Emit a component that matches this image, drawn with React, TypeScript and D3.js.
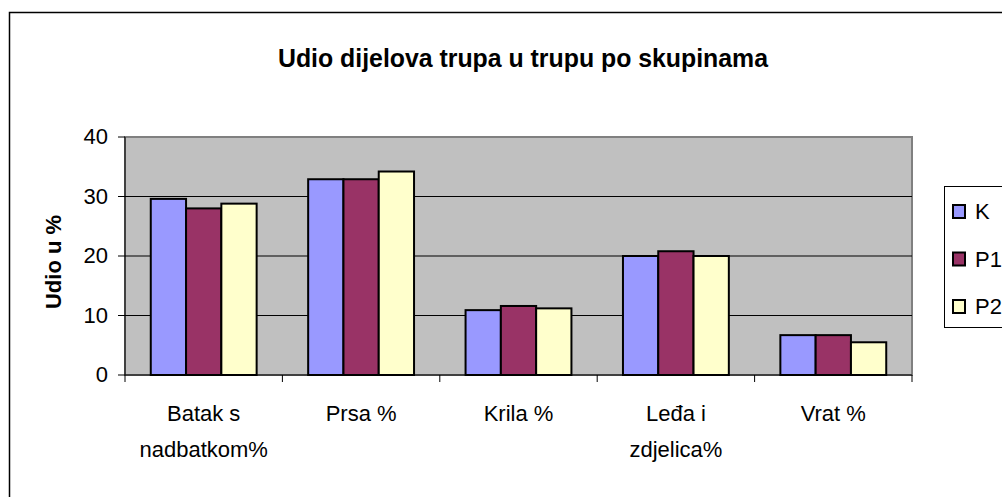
import React, { useRef, useEffect } from "react";
import * as d3 from "d3";

const categories = ["Batak s|nadbatkom%", "Prsa %", "Krila %", "Leđa i|zdjelica%", "Vrat %"];
const seriesNames = ["K", "P1", "P2"];
const valuesK = [29.6, 32.9, 10.9, 20.0, 6.7];
const valuesP1 = [28.0, 32.9, 11.6, 20.8, 6.7];
const valuesP2 = [28.8, 34.2, 11.2, 20.0, 5.5];
const yTicks = [0, 10, 20, 30, 40];
const colors = ["#9999FF", "#993366", "#FFFFCC"];

const W = 1002;
const H = 497;
const font = "'Liberation Sans', Arial, sans-serif";

function App() {
  const svgRef = useRef<SVGSVGElement>(null);

  useEffect(() => {
    const svg = d3.select(svgRef.current);
    svg.selectAll("*").remove();

    const left = 125, right = 912, top = 137, bottom = 375;
    const series = [valuesK, valuesP1, valuesP2];

    // outer chart frame (runs off the right and bottom edges)
    svg.append("rect")
      .attr("x", 9.5).attr("y", 12.5)
      .attr("width", 1100).attr("height", 600)
      .attr("fill", "white").attr("stroke", "black").attr("stroke-width", 1.5);

    svg.append("text")
      .attr("x", 523).attr("y", 67)
      .attr("text-anchor", "middle")
      .attr("font-family", font).attr("font-weight", "bold").attr("font-size", 25)
      .attr("textLength", 490).attr("lengthAdjust", "spacingAndGlyphs")
      .text("Udio dijelova trupa u trupu po skupinama");

    const x = d3.scaleBand().domain(categories).range([left, right]);
    const inner = d3.scaleBand().domain(seriesNames)
      .range([0, x.bandwidth()]).paddingInner(0).paddingOuter(0.73);
    const y = d3.scaleLinear().domain([0, 40]).range([bottom, top]);

    // plot area
    svg.append("rect")
      .attr("x", left).attr("y", top)
      .attr("width", right - left).attr("height", bottom - top)
      .attr("fill", "#C0C0C0").attr("stroke", "#808080").attr("stroke-width", 2);

    svg.selectAll(".grid")
      .data(yTicks.filter((t) => t > 0 && t < 40))
      .join("line")
      .attr("class", "grid")
      .attr("x1", left).attr("x2", right)
      .attr("y1", (d) => y(d)).attr("y2", (d) => y(d))
      .attr("stroke", "black").attr("stroke-width", 1);

    // bars
    series.forEach((vals, si) => {
      svg.selectAll(".bar" + si)
        .data(vals)
        .join("rect")
        .attr("class", "bar" + si)
        .attr("x", (d, i) => x(categories[i])! + inner(seriesNames[si])!)
        .attr("y", (d) => y(d))
        .attr("width", inner.bandwidth())
        .attr("height", (d) => bottom - y(d))
        .attr("fill", colors[si])
        .attr("stroke", "black").attr("stroke-width", 2);
    });

    // y axis
    svg.append("line")
      .attr("x1", left).attr("x2", left).attr("y1", top).attr("y2", bottom)
      .attr("stroke", "black");
    svg.selectAll(".ytick")
      .data(yTicks)
      .join("line")
      .attr("class", "ytick")
      .attr("x1", left - 7).attr("x2", left)
      .attr("y1", (d) => y(d)).attr("y2", (d) => y(d))
      .attr("stroke", "black");
    svg.selectAll(".ylab")
      .data(yTicks)
      .join("text")
      .attr("class", "ylab")
      .attr("x", 108).attr("y", (d) => y(d) + 7)
      .attr("text-anchor", "end")
      .attr("font-family", font).attr("font-size", 22)
      .text((d) => d);

    svg.append("text")
      .attr("transform", `translate(61,${(top + bottom) / 2 + 6}) rotate(-90)`)
      .attr("text-anchor", "middle")
      .attr("font-family", font).attr("font-weight", "bold").attr("font-size", 22)
      .text("Udio u %");

    // x axis
    svg.append("line")
      .attr("x1", left).attr("x2", right).attr("y1", bottom).attr("y2", bottom)
      .attr("stroke", "black");
    svg.selectAll(".xtick")
      .data([...categories.map((c) => x(c)!), right])
      .join("line")
      .attr("class", "xtick")
      .attr("x1", (d) => d).attr("x2", (d) => d)
      .attr("y1", bottom).attr("y2", bottom + 7)
      .attr("stroke", "black");
    const xl = svg.selectAll(".xlab")
      .data(categories)
      .join("text")
      .attr("class", "xlab")
      .attr("text-anchor", "middle")
      .attr("font-family", font).attr("font-size", 22);
    xl.each(function (c) {
      const lines = c.split("|");
      d3.select(this).selectAll("tspan")
        .data(lines)
        .join("tspan")
        .attr("x", x(c)! + x.bandwidth() / 2)
        .attr("y", (l, i) => 421 + i * 36)
        .text((l) => l);
    });

    // legend
    svg.append("rect")
      .attr("x", 944.5).attr("y", 186.5)
      .attr("width", 80).attr("height", 141)
      .attr("fill", "white").attr("stroke", "black").attr("stroke-width", 1);
    seriesNames.forEach((s, i) => {
      const cy = 212 + i * 47.5;
      svg.append("rect")
        .attr("x", 953).attr("y", cy - 7)
        .attr("width", 12).attr("height", 13)
        .attr("fill", colors[i]).attr("stroke", "black").attr("stroke-width", 2);
      svg.append("text")
        .attr("x", 975).attr("y", cy + 7)
        .attr("font-family", font).attr("font-size", 22)
        .text(s);
    });
  }, []);

  return (
    <svg ref={svgRef} width={W} height={H}
      style={{ position: "absolute", left: 0, top: 0, background: "white" }} />
  );
}

export default App;
